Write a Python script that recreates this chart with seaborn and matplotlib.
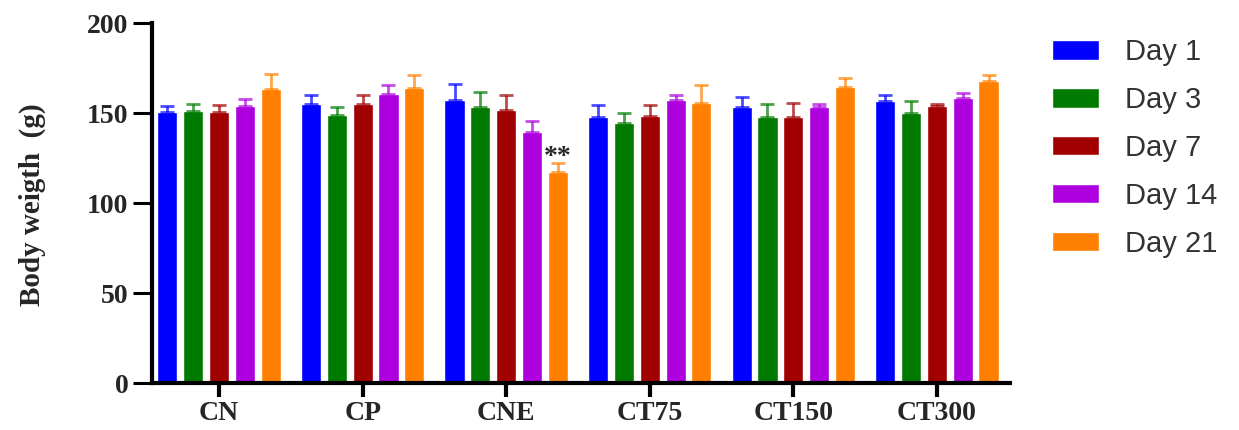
import numpy as np
import pandas as pd
import seaborn as sns
import matplotlib.pyplot as plt

groups = ["CN", "CP", "CNE", "CT75", "CT150", "CT300"]
days = ["Day 1", "Day 3", "Day 7", "Day 14", "Day 21"]

# mean body weight (g) per group, one list per day
day1 = [150.7, 155.0, 157.2, 147.6, 153.5, 156.9]
day3 = [151.3, 148.9, 153.5, 144.3, 148.0, 150.2]
day7 = [150.7, 155.0, 151.7, 148.5, 148.0, 154.1]
day14 = [153.9, 160.4, 139.6, 157.2, 153.1, 158.1]
day21 = [163.2, 163.9, 117.0, 155.7, 164.6, 168.0]

# upper error (SD) per group
err1 = [3.0, 5.0, 8.7, 6.8, 5.5, 3.0]
err3 = [3.5, 4.6, 8.0, 5.9, 7.0, 6.7]
err7 = [4.0, 5.0, 8.3, 6.0, 7.7, 1.0]
err14 = [3.7, 5.0, 6.0, 3.0, 2.0, 3.0]
err21 = [8.5, 7.0, 5.0, 10.0, 5.0, 3.0]

colors = ["#0000FF", "#007A00", "#A00000", "#AE00DE", "#FF8000"]

means = [day1, day3, day7, day14, day21]
errs = [err1, err3, err7, err14, err21]
rows = []
for d, m, e in zip(days, means, errs):
    for g, v, s in zip(groups, m, e):
        rows.append({"group": g, "day": d, "weight": v, "err": s})
df = pd.DataFrame(rows)

sns.set_style("white")
plt.rcParams["font.family"] = ["Liberation Serif", "DejaVu Serif"]

fig = plt.figure(figsize=(12.39, 4.30), dpi=100)
ax = fig.add_axes([0.1227, 0.1093, 0.815 - 0.1227, 0.9465 - 0.1093])

sns.barplot(data=df, x="group", y="weight", hue="day", order=groups,
            hue_order=days, palette=colors, errorbar=None, width=0.9,
            gap=0.22, saturation=1, ax=ax)

# one-sided error bars on top of each bar
bar_sets = list(ax.containers)[:len(days)]
for i, cont in enumerate(bar_sets):
    for bar in cont.patches:
        xc = bar.get_x() + bar.get_width() / 2
        gi = int(round(xc))
        top = means[i][gi]
        ax.errorbar(xc, top, yerr=[[0], [errs[i][gi]]], fmt="none",
                    ecolor=colors[i], elinewidth=2, capsize=5, capthick=2,
                    alpha=0.7)
        if i == 4 and groups[gi] == "CNE":
            ax.text(xc, top + 1.5, "**", ha="center",
                    va="bottom", fontsize=20, fontweight="bold")

ax.set_ylim(0, 200)
ax.set_xlim(-0.467, 5.508)
ax.set_yticks([0, 50, 100, 150, 200])
ax.set_xlabel("")
ax.set_ylabel("Body weigth  (g)", fontsize=21, fontweight="bold")
ax.yaxis.set_label_coords(-0.124, 0.494)
sns.despine(ax=ax)
for s in ["left", "bottom"]:
    ax.spines[s].set_linewidth(3)
    ax.spines[s].set_color("black")
ax.tick_params(axis="y", length=14, width=2.2, labelsize=20, pad=3,
               left=True, color="black")
ax.tick_params(axis="x", length=10, width=3, labelsize=20, pad=3,
               bottom=True, color="black")
for lab in ax.get_xticklabels() + ax.get_yticklabels():
    lab.set_fontweight("bold")

handles, labels = ax.get_legend_handles_labels()
ax.legend_.remove()
fig.legend(handles, labels, loc="upper left", bbox_to_anchor=(0.828, 0.972),
           frameon=False, handlelength=1.6, handleheight=0.65,
           labelspacing=0.68, handletextpad=0.9,
           prop={"family": "Liberation Sans", "size": 21}, labelcolor="#333333")

fig.savefig("out.png", dpi=100)
